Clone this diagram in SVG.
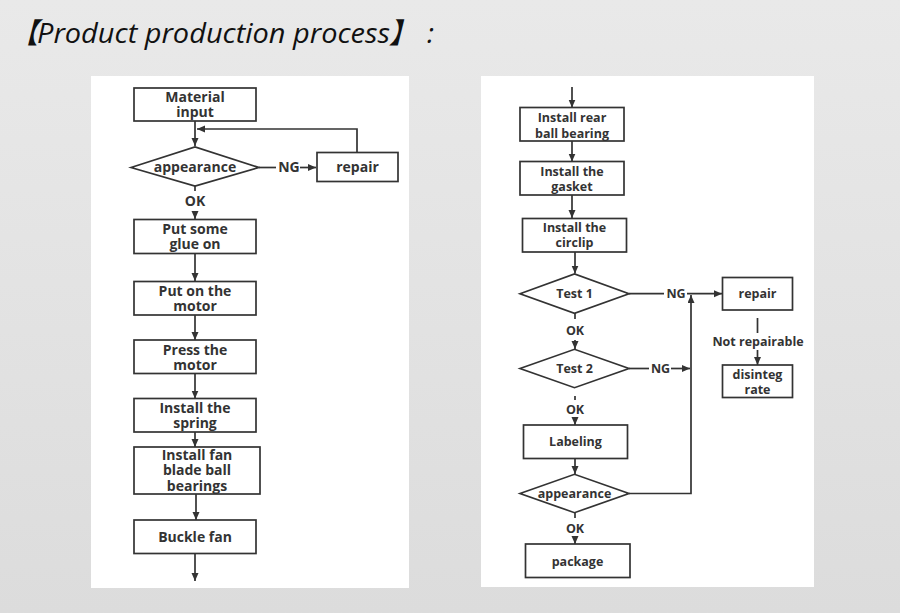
<svg xmlns="http://www.w3.org/2000/svg" width="900" height="613" viewBox="0 0 900 613">
<defs>
<linearGradient id="bg" x1="0" y1="0" x2="0" y2="1">
<stop offset="0" stop-color="#e9e9e9"/>
<stop offset="1" stop-color="#dcdcdc"/>
</linearGradient>
<marker id="ah" markerUnits="userSpaceOnUse" markerWidth="9" markerHeight="8" refX="8" refY="3.5" orient="auto">
<path d="M0,0 L8,3.5 L0,7 z" fill="#333"/>
</marker>
<style>
.box{fill:#fff;stroke:#333;stroke-width:1.7}
.ln{fill:none;stroke:#333;stroke-width:1.7}
.ar{fill:none;stroke:#333;stroke-width:1.7;marker-end:url(#ah)}
.t{font-family:"Open Sans","Liberation Sans",sans-serif;font-weight:bold;fill:#333;text-anchor:middle}
.l{font-size:14px}
.r{font-size:12.5px}
.title{font-family:"Open Sans","DejaVu Sans","Noto Sans CJK SC",sans-serif;font-style:italic;font-size:28px;fill:#111}
</style>
</defs>
<rect width="900" height="613" fill="url(#bg)"/>
<text class="title" y="43"><tspan x="10">【</tspan><tspan x="37" textLength="353" lengthAdjust="spacingAndGlyphs">Product production process</tspan><tspan x="389">】</tspan><tspan x="427">:</tspan></text>
<rect x="91" y="76" width="318" height="512" fill="#fff"/>
<rect x="481" y="76" width="333" height="511" fill="#fff"/>

<g id="connectors">
<path class="ar" d="M195,121 V146"/>
<path class="ar" d="M357,152 V129 H197"/>
<path class="ln" d="M259,167.5 H276"/>
<path class="ar" d="M300,167.5 H316"/>
<path class="ln" d="M195,186 V191"/>
<path class="ar" d="M195,211 V219"/>
<path class="ar" d="M195,253 V281"/>
<path class="ar" d="M195,315 V340"/>
<path class="ar" d="M195,373 V398.5"/>
<path class="ar" d="M195,432 V447"/>
<path class="ar" d="M196,494 V520"/>
<path class="ar" d="M195,553 V581"/>

<path class="ar" d="M572,87 V107.5"/>
<path class="ar" d="M572,141 V161.5"/>
<path class="ar" d="M572,195 V218"/>
<path class="ar" d="M575,252 V273.5"/>
<path class="ln" d="M629,293.7 H664"/>
<path class="ar" d="M687,293.7 H722"/>
<path class="ln" d="M757.5,318 V333"/>
<path class="ar" d="M757.5,350 V365"/>
<path class="ln" d="M575,313 V319"/>
<path class="ar" d="M575,340 V349"/>
<path class="ln" d="M629,368.5 H649"/>
<path class="ar" d="M671,368.5 H690"/>
<path class="ln" d="M575,396 V400"/>
<path class="ar" d="M575,419 V425"/>
<path class="ar" d="M575,458.5 V474"/>
<path class="ar" d="M629,493.5 H691 V295"/>
<path class="ln" d="M575,513 V518"/>
<path class="ar" d="M575,537 V544"/>
</g>

<g id="n-material"><rect class="box" x="134" y="88" width="122" height="33"/><text class="t l" x="195" y="102">Material</text><text class="t l" x="195" y="117">input</text></g>
<g id="n-appearance1"><polygon class="box" points="131,167.5 195,147 259,167.5 195,186"/><text class="t l" x="195" y="172">appearance</text></g>
<g id="n-ng1"><text class="t l" x="289" y="172">NG</text></g>
<g id="n-repair1"><rect class="box" x="317" y="152.5" width="81" height="29"/><text class="t l" x="357.5" y="171.5">repair</text></g>
<g id="n-ok1"><text class="t l" x="195" y="206">OK</text></g>
<g id="n-glue"><rect class="box" x="134" y="219.5" width="122" height="34"/><text class="t l" x="195" y="233.5">Put some</text><text class="t l" x="195" y="248.5">glue on</text></g>
<g id="n-putmotor"><rect class="box" x="134" y="281.5" width="122" height="33.5"/><text class="t l" x="195" y="296">Put on the</text><text class="t l" x="195" y="311">motor</text></g>
<g id="n-pressmotor"><rect class="box" x="134" y="340" width="122" height="33.5"/><text class="t l" x="195" y="354.5">Press the</text><text class="t l" x="195" y="369.5">motor</text></g>
<g id="n-spring"><rect class="box" x="134" y="398.5" width="122" height="33.5"/><text class="t l" x="195" y="413">Install the</text><text class="t l" x="195" y="428">spring</text></g>
<g id="n-fanbearing"><rect class="box" x="134" y="447" width="126" height="47"/><text class="t l" x="197" y="459.5">Install fan</text><text class="t l" x="197" y="475">blade ball</text><text class="t l" x="197" y="491">bearings</text></g>
<g id="n-buckle"><rect class="box" x="134" y="520" width="122" height="33.5"/><text class="t l" x="195" y="542">Buckle fan</text></g>

<g id="n-rearbearing"><rect class="box" x="520" y="107.5" width="104" height="33.5"/><text class="t r" x="572" y="122">Install rear</text><text class="t r" x="572" y="137.5">ball bearing</text></g>
<g id="n-gasket"><rect class="box" x="520" y="161.5" width="104" height="33.5"/><text class="t r" x="572" y="175.5">Install the</text><text class="t r" x="572" y="190.5">gasket</text></g>
<g id="n-circlip"><rect class="box" x="522.5" y="218.5" width="104" height="33.5"/><text class="t r" x="574.5" y="232">Install the</text><text class="t r" x="574.5" y="247">circlip</text></g>
<g id="n-test1"><polygon class="box" points="520,293.7 574.5,274 629,293.7 574.5,313.3"/><text class="t r" x="574.5" y="297.5">Test 1</text></g>
<g id="n-ng2"><text class="t r" x="676" y="297.5">NG</text></g>
<g id="n-repair2"><rect class="box" x="722.5" y="277.5" width="70" height="32.5"/><text class="t r" x="757.5" y="297.5">repair</text></g>
<g id="n-notrepairable"><text class="t r" x="758" y="346">Not repairable</text></g>
<g id="n-disintegrate"><rect class="box" x="722.5" y="365" width="70" height="32.5"/><text class="t r" x="757.5" y="378.5">disinteg</text><text class="t r" x="757.5" y="393.5">rate</text></g>
<g id="n-ok2"><text class="t r" x="575" y="335">OK</text></g>
<g id="n-test2"><polygon class="box" points="520,368.5 574.5,349.3 629,368.5 574.5,387.7"/><text class="t r" x="574.5" y="373">Test 2</text></g>
<g id="n-ng3"><text class="t r" x="660.5" y="373">NG</text></g>
<g id="n-ok3"><text class="t r" x="575" y="413.5">OK</text></g>
<g id="n-labeling"><rect class="box" x="523.5" y="425" width="104" height="33.5"/><text class="t r" x="575.5" y="446">Labeling</text></g>
<g id="n-appearance2"><polygon class="box" points="520,493.5 574.5,474.3 629,493.5 574.5,512.7"/><text class="t r" x="574.5" y="497.5">appearance</text></g>
<g id="n-ok4"><text class="t r" x="575" y="533">OK</text></g>
<g id="n-package"><rect class="box" x="525.5" y="544" width="104.5" height="33.5"/><text class="t r" x="577.5" y="566">package</text></g>
</svg>
